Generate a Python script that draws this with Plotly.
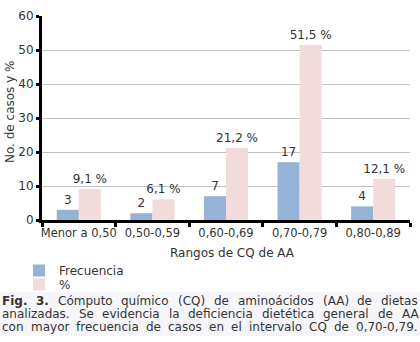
import plotly.graph_objects as go

categories = ["Menor a 0,50", "0,50-0,59", "0,60-0,69", "0,70-0,79", "0,80-0,89"]
frecuencia = [3, 2, 7, 17, 4]
porcentaje = [9.1, 6.1, 21.2, 51.5, 12.1]
frec_labels = [str(v) for v in frecuencia]
pct_labels = [f"{v:.1f}".replace(".", ",") + " %" for v in porcentaje]
y_ticks = [0, 10, 20, 30, 40, 50, 60]

# caption, one list of words per (justified) line; bold words marked with True
caption_lines = [
    [("Fig.", True), ("3.", True), ("Cómputo", False), ("químico", False), ("(CQ)", False),
     ("de", False), ("aminoácidos", False), ("(AA)", False), ("de", False), ("dietas", False)],
    [("analizadas.", False), ("Se", False), ("evidencia", False), ("la", False),
     ("deficiencia", False), ("dietética", False), ("general", False), ("de", False),
     ("AA", False)],
    [("con", False), ("mayor", False), ("frecuencia", False), ("de", False), ("casos", False),
     ("en", False), ("el", False), ("intervalo", False), ("CQ", False), ("de", False),
     ("0,70-0,79.", False)],
]

FONT = "DejaVu Sans"
TXT = "#333333"
CAP_SIZE = 12

# approximate DejaVu Sans advance widths (units per 2048 em) used to justify the caption
ADV = {"a": 1255, "b": 1300, "c": 1126, "d": 1300, "e": 1260, "f": 721, "g": 1300,
       "h": 1298, "i": 569, "l": 569, "m": 1995, "n": 1298, "o": 1253, "p": 1300,
       "q": 1300, "r": 842, "s": 1067, "t": 803, "u": 1298, "v": 1212, "y": 1212,
       "z": 1075, "á": 1255, "é": 1260, "í": 569, "ó": 1253, "A": 1401, "C": 1430,
       "F": 1178, "Q": 1612, "S": 1300, "(": 799, ")": 799, ",": 651, "-": 739,
       ".": 651, " ": 651}
ADV_BOLD = {"F": 1290, "i": 702, "g": 1466, ".": 780, "3": 1425}


def text_width(word, bold, size):
    tot = 0
    for ch in word:
        if bold and ch in ADV_BOLD:
            tot += ADV_BOLD[ch]
        elif ch.isdigit():
            tot += 1303
        else:
            tot += ADV.get(ch, 1250)
    return tot / 2048 * size


W, H = 420, 342
L, R, T, B = 42, 10, 16, 122
ph = H - T - B


def py(pix):
    return (H - B - pix) / ph


def px(pix):
    return (pix - L) / (W - L - R)


fig = go.Figure()
fig.add_trace(go.Bar(
    x=categories, y=frecuencia, name="Frecuencia", legend="legend",
    marker=dict(color="#95B3D7", line=dict(width=0)),
    text=frec_labels, textposition="outside", constraintext="none",
    cliponaxis=False, textfont=dict(size=12, color=TXT, family=FONT),
))
fig.add_trace(go.Bar(
    x=categories, y=porcentaje, name="%", legend="legend2",
    marker=dict(color="#F2DCDB", line=dict(width=0)),
    text=pct_labels, textposition="outside", constraintext="none",
    cliponaxis=False, textfont=dict(size=12, color=TXT, family=FONT),
))

annotations = [
    dict(text="No. de casos y %", x=px(10), y=py(112), xref="paper", yref="paper",
         xanchor="center", yanchor="middle", textangle=-90, showarrow=False,
         font=dict(size=12, color=TXT, family=FONT)),
    dict(text="Rangos de CQ de AA", x=px(232), y=py(253), xref="paper", yref="paper",
         xanchor="center", yanchor="middle", showarrow=False,
         font=dict(size=12, color=TXT, family=FONT)),
]

left_edge, right_edge = 2, 418
for i, words in enumerate(caption_lines):
    widths = [text_width(w, b, CAP_SIZE) for w, b in words]
    gap = (right_edge - left_edge - sum(widths)) / (len(words) - 1)
    pos = left_edge
    for (w, b), wd in zip(words, widths):
        annotations.append(dict(
            text=f"<b>{w}</b>" if b else w, x=px(pos - 2), y=py(301 + 13 * i),
            xref="paper", yref="paper", xanchor="left", yanchor="middle",
            showarrow=False, font=dict(size=CAP_SIZE, color=TXT, family=FONT)))
        pos += wd + gap

legend_common = dict(xanchor="left", yanchor="top", orientation="v",
                     font=dict(size=12, color=TXT, family=FONT),
                     bgcolor="rgba(0,0,0,0)", itemwidth=30, tracegroupgap=0)

fig.update_layout(
    width=W, height=H,
    margin=dict(l=L, r=R, t=T, b=B, pad=0, autoexpand=False),
    paper_bgcolor="white", plot_bgcolor="white",
    barmode="group", bargap=0.4, bargroupgap=0,
    font=dict(family=FONT, size=12, color=TXT),
    showlegend=True,
    legend=dict(x=px(19), y=py(256), **legend_common),
    legend2=dict(x=px(19), y=py(270), **legend_common),
    annotations=annotations,
    shapes=[dict(type="rect", xref="paper", yref="paper",
                 x0=px(0), x1=px(W), y0=py(292), y1=py(336),
                 fillcolor="#F6F6FA", line=dict(width=0), layer="below")],
    xaxis=dict(showline=True, linecolor="black", linewidth=3,
               ticks="outside", tickson="boundaries", ticklen=4, tickwidth=3,
               tickcolor="black", showgrid=False, tickangle=0, automargin=False,
               tickfont=dict(size=11.5, color=TXT, family=FONT)),
    yaxis=dict(range=[0, 60], tickvals=y_ticks, showline=True, linecolor="black",
               linewidth=3, ticks="outside", ticklen=3, tickwidth=3, tickcolor="black",
               showgrid=True, gridcolor="#C0C0C0", gridwidth=1, zeroline=False,
               automargin=False,
               tickfont=dict(size=12, color=TXT, family=FONT)),
)

fig.write_html("out.html")
